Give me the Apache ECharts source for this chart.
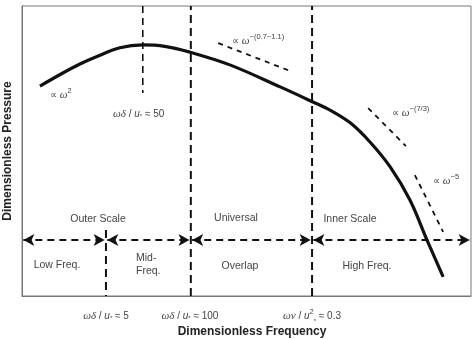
<!DOCTYPE html>
<html>
<head>
<meta charset="utf-8">
<script src="https://cdn.jsdelivr.net/npm/echarts@6/dist/echarts.min.js"></script>
<style>
  html, body { margin: 0; padding: 0; background: #fff; }
  #chart { width: 475px; height: 339px; }
</style>
</head>
<body>
<div id="chart"></div>
<script>
// schematic spectrum, arbitrary units (x: 0..100 frequency, y: 0..100 pressure)
const curveX = [4.0, 9.1, 12.9, 16.7, 21.8, 26.9, 31.8, 37.4, 46.3, 57.5, 64.8, 68.6, 73.1, 77.5, 82.0, 86.4, 90.2, 93.8];
const curveY = [72.4, 76.9, 80.0, 82.6, 85.6, 86.6, 86.1, 84.1, 79.7, 72.1, 66.9, 64.1, 59.7, 53.1, 44.5, 33.1, 19.3, 6.6];

// region boundaries
const boundaryX = [18.7, 37.6, 64.6];
const peakX = 26.9;
const arrowY = 19.3;

// slope guide lines [x0, y0, x1, y1]
const slopeA = [43.7, 87.2, 59.7, 77.6];   // w^-(0.7~1.1)
const slopeB = [77.1, 64.8, 85.5, 51.7];   // w^-(7/3)
const slopeC = [87.5, 41.7, 93.8, 22.1];   // w^-5

const chart = echarts.init(document.getElementById('chart'));

const rich = {
  g: { fontFamily: 'Liberation Serif', fontStyle: 'italic', fontSize: 11, color: '#555' },
  t: { fontFamily: 'Liberation Sans', fontSize: 10, color: '#555' },
  u: { fontFamily: 'Liberation Sans', fontStyle: 'italic', fontSize: 10, color: '#555' },
  sub: { fontFamily: 'Liberation Sans', fontSize: 6, color: '#555', verticalAlign: 'bottom' },
  sup: { fontFamily: 'Liberation Sans', fontSize: 7.5, color: '#555', verticalAlign: 'top', lineHeight: 16 }
};

function txt(x, y, text, align, extra) {
  return {
    type: 'text', x: x, y: y, silent: true,
    style: Object.assign({
      text: text, rich: rich, align: align || 'left', verticalAlign: 'middle',
      fontFamily: 'Liberation Sans', fontSize: 10.5, fill: '#444'
    }, extra || {})
  };
}

function dashSeg(x0, y0, x1, y1, width, dash) {
  return {
    type: 'line', silent: true, symbol: 'none', smooth: false,
    lineStyle: { color: '#111', width: width, type: dash },
    data: [[x0, y0], [x1, y1]], z: 3
  };
}

const series = [];
series.push({
  type: 'line', data: curveX.map((x, i) => [x, curveY[i]]),
  smooth: 0.35, symbol: 'none', silent: true,
  lineStyle: { color: '#111', width: 3.2 }, z: 5
});
boundaryX.forEach(x => series.push(dashSeg(x, x === boundaryX[0] ? 22.8 : 0, x, x === boundaryX[0] ? 0 : 100, 2, [8, 5])));
series.push(dashSeg(peakX, 100, peakX, 70, 1.6, [7, 5]));
[slopeA, slopeB, slopeC].forEach(s => series.push(dashSeg(s[0], s[1], s[2], s[3], 1.8, [5, 5])));

// horizontal arrows between the boundaries
const edges = [0].concat(boundaryX, [100]);
series.push({
  type: 'line', data: [], silent: true,
  markLine: {
    silent: true, animation: false,
    symbol: ['arrow', 'arrow'], symbolSize: [9, 11],
    label: { show: false },
    lineStyle: { color: '#111', width: 2, type: [7, 5] },
    data: edges.slice(0, -1).map((x, i) => [{ coord: [x + 0.3, arrowY] }, { coord: [edges[i + 1] - 0.3, arrowY] }])
  }
});

chart.setOption({
  animation: false,
  grid: {
    left: 22, right: 4, top: 6, bottom: 43, outerBoundsMode: 'none', containLabel: false,
    show: true, borderColor: '#777', borderWidth: 1
  },
  xAxis: {
    type: 'value', min: 0, max: 100,
    axisLine: { show: true, lineStyle: { color: '#777' } },
    axisTick: { show: false }, axisLabel: { show: false }, splitLine: { show: false }
  },
  yAxis: {
    type: 'value', min: 0, max: 100,
    name: 'Dimensionless Pressure', nameLocation: 'middle', nameRotate: 90, nameGap: 8,
    nameTextStyle: { fontFamily: 'Liberation Sans', fontWeight: 'bold', fontSize: 12, color: '#222' },
    axisLine: { show: true, lineStyle: { color: '#777' } },
    axisTick: { show: false }, axisLabel: { show: false }, splitLine: { show: false }
  },
  series: series,
  graphic: [
    txt(50, 95, '{t|∝ }{g|ω}{sup|2}'),
    txt(113, 114, '{g|ωδ}{t| / }{u|u}{sub|*}{t| ≈ 50}'),
    txt(232, 41, '{t|∝ }{g|ω}{sup|−(0.7~1.1)}'),
    txt(392, 113, '{t|∝ }{g|ω}{sup|−(7/3)}'),
    txt(433, 181, '{t|∝ }{g|ω}{sup|−5}'),
    txt(98, 219, 'Outer Scale', 'center'),
    txt(236, 218, 'Universal', 'center'),
    txt(350, 219, 'Inner Scale', 'center'),
    txt(57, 265, 'Low Freq.', 'center'),
    txt(136, 258, 'Mid-', 'left'),
    txt(136, 271, 'Freq.', 'left'),
    txt(240, 266, 'Overlap', 'center'),
    txt(367, 266, 'High Freq.', 'center'),
    txt(106, 316, '{g|ωδ}{t| / }{u|u}{sub|*}{t| ≈ 5}', 'center'),
    txt(190, 316, '{g|ωδ}{t| / }{u|u}{sub|*}{t| ≈ 100}', 'center'),
    txt(312, 316, '{g|ων}{t| / }{u|u}{sup|2}{sub|*}{t| ≈ 0.3}', 'center'),
    txt(252, 332, 'Dimensionless Frequency', 'center', { fontWeight: 'bold', fontSize: 12, fill: '#222' })
  ]
});
</script>
</body>
</html>
